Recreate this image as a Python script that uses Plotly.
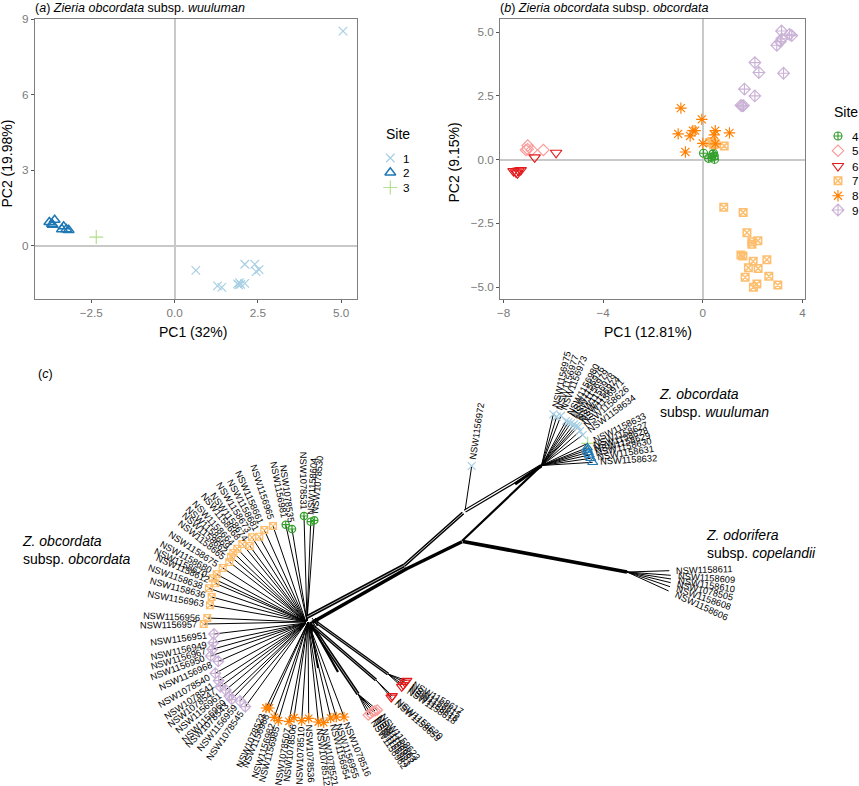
import math
import plotly.graph_objects as go

FONT = "Liberation Sans"
TICK = "#7a7a7a"
FRAME = "#7f7f7f"
W, H = 859, 786

STYLE = {
    1: ("x-thin-open", "#A6CEE3", 8.5), 2: ("triangle-up-open", "#1F78B4", 9.5), 3: ("cross-thin-open", "#B2DF8A", 10.0),
    4: ("circle-cross-open", "#33A02C", 8.0), 5: ("diamond-open", "#FB9A99", 8.8), 6: ("triangle-down-open", "#E31A1C", 10.0),
    7: ("square-x-open", "#FDBF6F", 7.5), 8: ("asterisk-open", "#FF7F00", 9.5), 9: ("diamond-cross-open", "#CAB2D6", 9.0),
}

# ---- panel (a) PCA
a_site1_x = [5.06, 0.64, 1.29, 1.42, 1.89, 1.95, 1.93, 1.99, 2.11, 2.11, 2.41, 2.45, 2.54]
a_site1_y = [8.52, -0.98, -1.60, -1.66, -1.52, -1.47, -1.56, -1.54, -1.50, -0.74, -0.74, -1.03, -0.95]
a_site2_x = [-3.76, -3.60, -3.66, -3.68, -3.33, -3.38, -3.25, -3.18]
a_site2_y = [0.93, 1.02, 0.82, 0.86, 0.76, 0.65, 0.65, 0.62]
a_site3_x = [-2.35]
a_site3_y = [0.34]

# ---- panel (b) PCA
b_site4_x = [0.03, 0.23, 0.43, 0.46, 0.36, 0.47, 0.40]
b_site4_y = [0.25, 0.05, 0.25, 0.14, 0.09, 0.01, 0.21]
b_site5_x = [-7.03, -7.03, -6.87, -6.40, -7.10]
b_site5_y = [0.55, 0.41, 0.38, 0.38, 0.38]
b_site6_x = [-5.89, -6.75, -7.60, -7.50, -7.40, -7.31, -7.44]
b_site6_y = [0.27, 0.09, -0.45, -0.50, -0.43, -0.41, -0.54]
b_site7_x = [0.86, 0.27, 0.36, 0.50, 0.43, 0.84, 1.62, 1.77, 1.97, 2.21, 1.97, 1.53, 1.61, 2.02, 2.57, 1.83, 2.22, 1.70, 2.65, 3.01, 2.17, 2.03]
b_site7_y = [0.54, 0.67, 0.71, 0.62, 0.58, -1.87, -2.07, -2.87, -3.22, -3.18, -3.32, -3.74, -3.78, -3.99, -3.93, -4.24, -4.27, -4.62, -4.58, -4.92, -4.88, -5.01]
b_site8_x = [-0.88, -0.04, -0.99, -0.40, -0.31, -0.51, 0.50, 0.46, 1.07, 0.00, -0.70, 0.50]
b_site8_y = [2.02, 1.58, 1.01, 1.14, 1.14, 0.93, 1.14, 0.97, 1.05, 0.64, 0.30, 0.62]
b_site9_x = [3.16, 3.48, 3.57, 3.17, 3.11, 2.97, 2.09, 2.25, 3.24, 1.67, 2.09, 1.53, 1.63, 1.58]
b_site9_y = [5.05, 4.92, 4.87, 4.74, 4.63, 4.49, 3.81, 3.42, 3.39, 2.77, 2.50, 2.13, 2.12, 2.11]

# ---- panel (c) network, read in picture units
site7_labels = ["NSW1156957", "NSW1156956", "NSW1156963", "NSW1158636", "NSW1158638", "NSW1158612", "NSW1158670", "NSW1158680", "NSW1158675", "NSW1158665", "NSW1158662", "NSW1158669", "NSW1158664", "NSW1158668", "NSW1158674", "NSW1158673", "NSW1158681", "NSW1158661", "NSW1156965"]
site7_x = [203.7, 207.3, 210, 211.7, 209, 215.3, 212.7, 216.7, 222.7, 229.3, 231, 233.3, 237.3, 242.3, 249.7, 252, 259.3, 264.3, 273]
site7_y = [624, 618, 605.3, 597, 588.3, 583.3, 578.3, 574.3, 568, 562, 556.7, 552.7, 548.7, 544, 546, 537.3, 536.7, 530, 526]
site4_labels = ["NSW1156981", "NSW1078535", "NSW1078531", "NSW1158604", "NSW1078530"]
site4_x = [285.7, 292, 304, 310.7, 314.3]
site4_y = [524.7, 529, 516, 521.7, 520.3]
site9_labels = ["NSW1156951", "NSW1156949", "NSW1156967", "NSW1156950", "NSW1156968", "NSW1078540", "NSW1078541", "NSW1078547", "NSW1156961", "NSW1156960", "NSW1078543", "NSW1156959", "NSW1078545"]
site9_x = [214, 213.3, 212.3, 210.7, 218.3, 215.3, 218.7, 220.3, 225.7, 229.3, 231.7, 240, 245.3]
site9_y = [634, 642.7, 649.3, 656, 661.3, 673.3, 680.7, 686.7, 690, 696, 699.3, 701, 706.7]
site8_labels = ["NSW1078523", "NSW1156988", "NSW1156982", "NSW1156985", "NSW1078507", "NSW1078506", "NSW1078510", "NSW1078536", "NSW1078512", "NSW1078521", "NSW1156954", "NSW1156955", "NSW1078516"]
site8_x = [266, 269.3, 274.3, 278.3, 289, 294, 301.7, 308.7, 318.3, 323.7, 330.7, 336.3, 344]
site8_y = [708, 708, 717.3, 720.7, 721.3, 717.7, 720.7, 718.3, 722, 722.7, 718, 717, 717]
site5_labels = ["NSW1156962", "NSW1156983", "NSW1156957", "NSW1158663", "NSW1158623"]
site5_x = [368.3, 370.5, 372.7, 375, 377.3]
site5_y = [715, 713.5, 711.7, 711, 710]
site6a_labels = ["NSW1158659", "NSW1158620"]
site6a_x = [391.2, 392.2]
site6a_y = [697.5, 696]
site6b_labels = ["NSW1158618", "NSW1158616", "NSW1158615", "NSW1158617"]
site6b_x = [401.7, 403.3, 405, 406.7]
site6b_y = [686.7, 685, 682.5, 680.7]
site1_labels = ["NSW1156975", "NSW1156977", "NSW1156973", "NSW1156980", "NSW1156976", "NSW1156979", "NSW1156978", "NSW1156974", "NSW1156971", "NSW1158626", "NSW1158634"]
site1_x = [553.3, 556.7, 561, 566, 568.3, 570.7, 574, 576, 578.3, 580, 582.7]
site1_y = [414.3, 416.7, 415.7, 421, 422.3, 423.3, 424.3, 426, 426.7, 431, 435]
site3_labels = ["NSW1158633"]
site3_x = [587.7]
site3_y = [443.3]
site2_labels = ["NSW1158627", "NSW1158628", "NSW1158629", "NSW1158630", "NSW1158631", "NSW1158632"]
site2_x = [587.3, 587.3, 588.3, 589.3, 590.7, 592.7]
site2_y = [447.7, 450, 452.3, 455, 458.3, 462.3]
single_labels = ["NSW1156972"]
single_x = [471.7]
single_y = [466]
outgroup_labels = ["NSW1158611", "NSW1158609", "NSW1158610", "NSW1078505", "NSW1158608", "NSW1158606"]
outgroup_x = [669.3, 670.7, 671, 670.7, 670, 668.7]
outgroup_y = [570.7, 575.3, 579, 582.7, 586.7, 591]

# site, labels, tips, edge node, label direction pivot
GROUPS = [
    (7, site7_labels, site7_x, site7_y, (306, 622), (305, 622)),
    (4, site4_labels, site4_x, site4_y, (307, 621), (305, 622)),
    (9, site9_labels, site9_x, site9_y, (306, 623), (305, 622)),
    (8, site8_labels, site8_x, site8_y, (308, 622), (305, 622)),
    (5, site5_labels, site5_x, site5_y, (358, 694), (305, 622)),
    (6, site6a_labels, site6a_x, site6a_y, (376, 680), (305, 622)),
    (6, site6b_labels, site6b_x, site6b_y, (388, 674), (305, 622)),
    (1, site1_labels, site1_x, site1_y, (541.5, 465.5), (541.5, 465.5)),
    (3, site3_labels, site3_x, site3_y, (541.5, 465.5), (541.5, 465.5)),
    (2, site2_labels, site2_x, site2_y, (541.5, 465.5), (541.5, 465.5)),
    (1, single_labels, single_x, single_y, (465, 511), (465, 511)),
    (None, outgroup_labels, outgroup_x, outgroup_y, (627, 572), (627, 572)),
]

# network backbone: from x, from y, to x, to y, line width, colour
edge_x0 = [312, 406.7, 307, 307, 404, 404, 465, 465, 462, 463, 515, 312, 313, 316, 313, 316, 312, 318, 312, 310, 310, 312, 315, 310, 310]
edge_y0 = [622.5, 568.8, 617, 617, 565.5, 565.5, 511, 511, 541, 541.5, 484, 626, 626, 622, 626, 622, 626, 620, 618, 624, 624, 630, 628, 622, 623]
edge_x1 = [407, 462, 404, 404, 463, 463, 541, 541, 541, 627, 541.5, 358, 376, 388, 376, 388, 358, 310, 318, 316, 313, 314, 318, 338, 318]
edge_y1 = [568.5, 541.7, 565.5, 565.5, 513, 513, 466, 466, 466, 572, 465.5, 694, 680, 674, 680, 674, 694, 630, 626, 618, 632, 620, 621, 672, 668]
edge_w = [3.6, 3.2, 4.0, 0.7, 3.6, 0.8, 3.6, 1.3, 2.2, 3.8, 3.2, 3.6, 3.0, 3.2, 0.6, 0.6, 0.6, 1, 1, 1, 1, 1, 1, 2.2, 1.8]
edge_c = ["#000", "#000", "#000", "#fff", "#000", "#fff", "#000", "#fff", "#000", "#000", "#000", "#000", "#000", "#000", "#fff", "#fff", "#fff", "#000", "#000", "#000", "#000", "#000", "#000", "#000", "#000"]

# overlay text
key_a_sites = [1, 2, 3]
key_a_y = [158, 172.6, 187.5]
key_b_sites = [4, 5, 6, 7, 8, 9]
key_b_y = [136, 150.7, 166, 180.7, 195.7, 210]
headings = [
    (34, "(<i>a</i>) <i>Zieria obcordata</i> subsp. <i>wuuluman</i>"),
    (499, "(<i>b</i>) <i>Zieria obcordata</i> subsp. <i>obcordata</i>"),
]
clades = [
    (657.5, 403, "<i>Z. obcordata</i><br>subsp. <i>wuuluman</i>"),
    (704.5, 544, "<i>Z. odorifera</i><br>subsp. <i>copelandii</i>"),
    (20.5, 550, "<i>Z. obcordata</i><br>subsp. <i>obcordata</i>"),
]
axis_titles = [
    (192.5, 332, "PC1 (32%)", 0),
    (6.5, 164, "PC2 (19.98%)", -90),
    (648, 332, "PC1 (12.81%)", 0),
    (453.5, 163, "PC2 (9.15%)", -90),
]

LABEL_PX = 9.3
LABEL_LEN = 58
LABEL_GAP = 6.5


def px_to_domain(left, right, top, bottom):
    return [left / W, right / W], [1 - bottom / H, 1 - top / H]


fig = go.Figure()
ax_a = dict(xaxis="x", yaxis="y")
ax_b = dict(xaxis="x2", yaxis="y2")
ax_c = dict(xaxis="x3", yaxis="y3")


def pts(xs, ys, site, axes, scale=1.0, width=None):
    sym, col, size = STYLE[site]
    w = width if width else (1.5 if site in (2, 7) else 1.15)
    fig.add_trace(go.Scatter(x=xs, y=ys, mode="markers", cliponaxis=False, showlegend=False, hoverinfo="skip",
                             marker=dict(symbol=sym, size=size * scale, color=col, line=dict(color=col, width=w)), **axes))


for xs, ys, s in [(a_site1_x, a_site1_y, 1), (a_site2_x, a_site2_y, 2), (a_site3_x, a_site3_y, 3)]:
    pts(xs, ys, s, ax_a)
for xs, ys, s in [(b_site4_x, b_site4_y, 4), (b_site5_x, b_site5_y, 5), (b_site6_x, b_site6_y, 6),
                  (b_site7_x, b_site7_y, 7), (b_site8_x, b_site8_y, 8), (b_site9_x, b_site9_y, 9)]:
    pts(xs, ys, s, ax_b)

# thin fans
fx, fy = [], []
for site, labels, xs, ys, node, pivot in GROUPS:
    for x, y in zip(xs, ys):
        fx += [node[0], x, None]
        fy += [node[1], y, None]
fig.add_trace(go.Scatter(x=fx, y=fy, mode="lines", line=dict(color="#000", width=1.0), showlegend=False, hoverinfo="skip", **ax_c))

# backbone in drawing order
for x0, y0, x1, y1, w, c in zip(edge_x0, edge_y0, edge_x1, edge_y1, edge_w, edge_c):
    fig.add_trace(go.Scatter(x=[x0, x1], y=[y0, y1], mode="lines", line=dict(color=c, width=w), showlegend=False, hoverinfo="skip", **ax_c))

annotations = []


def text(x, y, s, size, color="#000", xanchor="left", yanchor="middle", angle=0, align="left"):
    annotations.append(dict(x=x, y=y, xref="x3", yref="y3", text=s, showarrow=False, xanchor=xanchor, yanchor=yanchor,
                            textangle=angle, align=align, borderpad=0, font=dict(family=FONT, size=size, color=color)))


for site, labels, xs, ys, node, pivot in GROUPS:
    if site:
        pts(xs, ys, site, ax_c, scale=0.92, width=1.2)
    for lab, x, y in zip(labels, xs, ys):
        dx, dy = x - pivot[0], y - pivot[1]
        d = math.hypot(dx, dy)
        ux, uy = dx / d, dy / d
        ang = math.degrees(math.atan2(dy, dx))
        if dx < 0:
            ang += 180
        if ang > 180:
            ang -= 360
        c = LABEL_GAP + LABEL_LEN / 2
        text(x + ux * c, y + uy * c, lab, LABEL_PX, xanchor="center", angle=ang)

# site keys
for s, y in zip(key_a_sites, key_a_y):
    pts([390.3], [y], s, ax_c)
    text(402, y, str(s), 11.7)
for s, y in zip(key_b_sites, key_b_y):
    pts([838], [y], s, ax_c)
    text(851, y, str(s), 11.7)
text(385, 134, "Site", 14)
text(832.5, 112, "Site", 14)
for x, s in headings:
    text(x, 0, s, 12.5, yanchor="top")
text(37, 374, "(<i>c</i>)", 12.5)
for x, y, s in clades:
    text(x, y, s, 14)
for x, y, s, ang in axis_titles:
    text(x, y, s, 14, xanchor="center", angle=ang)

xd_a, yd_a = px_to_domain(35, 357, 19, 299)
xd_b, yd_b = px_to_domain(500.3, 804.7, 19, 299)
common = dict(showgrid=False, zeroline=True, zerolinecolor="#c9c9c9", zerolinewidth=1.6, showline=True, linecolor=FRAME,
              linewidth=1.2, mirror=True, ticks="outside", ticklen=3, tickcolor="#555555", tickwidth=1, automargin=False,
              tickfont=dict(family=FONT, size=11.7, color=TICK))


def axis(domain, rng, vals, txt, **kw):
    return dict(domain=domain, range=rng, tickvals=vals, ticktext=txt, **common, **kw)


fig.update_layout(
    width=W, height=H, margin=dict(l=0, r=0, t=0, b=0), plot_bgcolor="rgba(0,0,0,0)", paper_bgcolor="#fff", showlegend=False,
    annotations=annotations,
    xaxis=axis(xd_a, [-4.19, 5.48], [-2.5, 0, 2.5, 5], ["−2.5", "0.0", "2.5", "5.0"], anchor="y"),
    yaxis=axis(yd_a, [-2.12, 9.0], [0, 3, 6, 9], ["0", "3", "6", "9"], anchor="x"),
    xaxis2=axis(xd_b, [-8.13, 4.09], [-8, -4, 0, 4], ["−8", "−4", "0", "4"], anchor="y2"),
    yaxis2=axis(yd_b, [-5.47, 5.52], [-5, -2.5, 0, 2.5, 5], ["−5.0", "−2.5", "0.0", "2.5", "5.0"], anchor="x2"),
    xaxis3=dict(domain=[0, 1], range=[0, W], visible=False, anchor="y3"),
    yaxis3=dict(domain=[0, 1], range=[H, 0], visible=False, anchor="x3"),
)

fig.write_html("out.html", config={"displayModeBar": False},
               post_script="document.body.style.margin='0';var s=document.createElement('style');s.textContent='text{opacity:.995}';document.head.appendChild(s);")
